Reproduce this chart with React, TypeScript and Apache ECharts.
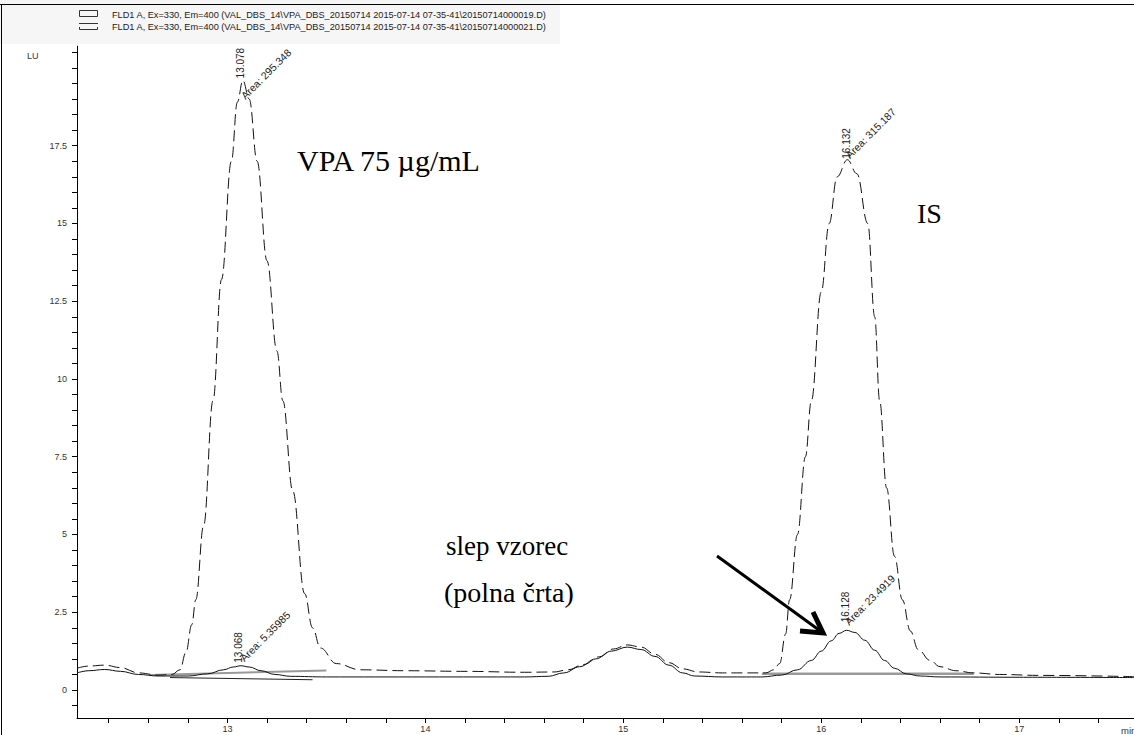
import React, { useEffect, useRef } from "react";
import * as echarts from "echarts";

// ---- axis ticks / labels ----
const xLabelValues = [13, 14, 15, 16, 17];
const xTickValues = [12.4, 12.6, 12.8, 13, 13.2, 13.4, 13.6, 13.8, 14, 14.2, 14.4, 14.6, 14.8, 15, 15.2, 15.4, 15.6, 15.8, 16, 16.2, 16.4, 16.6, 16.8, 17, 17.2, 17.4];
const yLabelValues = [0, 2.5, 5, 7.5, 10, 12.5, 15, 17.5];
const yTickValues: number[] = [];
for (let i = -1; i <= 41; i++) yTickValues.push(i * 0.5);

// ---- legend ----
const legendTexts = [
  "FLD1 A, Ex=330, Em=400 (VAL_DBS_14\\VPA_DBS_20150714 2015-07-14 07-35-41\\20150714000019.D)",
  "FLD1 A, Ex=330, Em=400 (VAL_DBS_14\\VPA_DBS_20150714 2015-07-14 07-35-41\\20150714000021.D)",
];

// ---- dashed trace: sample VPA 75 µg/mL ----
const sampleTrace: [number, number][] = [
  [12.24, 0.7], [12.3, 0.77], [12.38, 0.8], [12.46, 0.72], [12.55, 0.55], [12.65, 0.48], [12.72, 0.5],
  [12.76, 0.65], [12.79, 1.2], [12.82, 2.1], [12.84, 2.9], [12.88, 5.3], [12.927, 9.3], [12.97, 13.2],
  [13.02, 17.0], [13.05, 18.9], [13.078, 19.6], [13.11, 19.0], [13.15, 17.0], [13.2, 13.8], [13.25, 10.9],
  [13.28, 9.3], [13.33, 6.4], [13.39, 3.1], [13.43, 2.0], [13.47, 1.35], [13.55, 0.85], [13.67, 0.65],
  [13.9, 0.62], [14.2, 0.6], [14.5, 0.57], [14.65, 0.58], [14.72, 0.65], [14.8, 0.82], [14.88, 1.07],
  [14.95, 1.32], [15.02, 1.45], [15.09, 1.38], [15.16, 1.15], [15.23, 0.88], [15.3, 0.68], [15.38, 0.58],
  [15.5, 0.55], [15.6, 0.55], [15.72, 0.55], [15.76, 0.65], [15.79, 0.85], [15.82, 1.8], [15.84, 2.9],
  [15.88, 5.0], [15.92, 7.5], [15.95, 9.3], [16.0, 12.8], [16.04, 15.0], [16.08, 16.5], [16.132, 17.05],
  [16.18, 16.6], [16.235, 15.0], [16.27, 12.0], [16.295, 9.3], [16.33, 6.5], [16.37, 4.3], [16.41, 2.9],
  [16.45, 1.9], [16.49, 1.3], [16.55, 0.95], [16.6, 0.75], [16.68, 0.62], [16.77, 0.55], [16.9, 0.5],
  [17.1, 0.47], [17.58, 0.43],
];

// ---- solid trace: blank sample ----
const blankTrace: [number, number][] = [
  [12.24, 0.55], [12.3, 0.62], [12.38, 0.66], [12.46, 0.6], [12.55, 0.5], [12.65, 0.45], [12.8, 0.45],
  [12.9, 0.52], [12.98, 0.65], [13.03, 0.74], [13.068, 0.78], [13.11, 0.74], [13.17, 0.62], [13.24, 0.5],
  [13.32, 0.44], [13.5, 0.42], [14.0, 0.42], [14.5, 0.42], [14.62, 0.44], [14.7, 0.55], [14.78, 0.75],
  [14.86, 1.0], [14.94, 1.25], [15.02, 1.38], [15.09, 1.3], [15.16, 1.08], [15.23, 0.8], [15.3, 0.55],
  [15.36, 0.45], [15.5, 0.42], [15.7, 0.42], [15.8, 0.48], [15.88, 0.65], [15.95, 0.95], [16.0, 1.25],
  [16.05, 1.58], [16.09, 1.82], [16.128, 1.92], [16.17, 1.85], [16.22, 1.6], [16.27, 1.28], [16.32, 0.95],
  [16.37, 0.7], [16.43, 0.52], [16.5, 0.45], [16.6, 0.42], [17.0, 0.41], [17.58, 0.4],
];

// ---- integration baselines ----
const baselineVpaGray: [number, number][] = [[12.61, 0.48], [13.5, 0.63]];
const baselineVpaBlack: [number, number][] = [[12.71, 0.4], [13.43, 0.33]];
const baselineIsGray: [number, number][] = [[15.7, 0.52], [16.77, 0.52]];

// ---- peak annotations ----
const peakNotes = [
  { t: 13.078, v: 19.6, rt: "13.078", area: "Area: 295.348", rtOff: [3, -2], areaOff: [4, 21] },
  { t: 13.068, v: 0.78, rt: "13.068", area: "Area: 5.35985", rtOff: [3, -3], areaOff: [5, -2] },
  { t: 16.132, v: 17.05, rt: "16.132", area: "Area: 315.187", rtOff: [4, -1], areaOff: [4, 1] },
  { t: 16.128, v: 1.92, rt: "16.128", area: "Area: 23.4919", rtOff: [4, -8], areaOff: [4, -3] },
];

const bigTexts = [
  { text: "VPA 75 µg/mL", x: 297, y: 160, size: 30 },
  { text: "IS", x: 917, y: 213, size: 28 },
  { text: "slep vzorec", x: 446, y: 546, size: 27 },
  { text: "(polna črta)", x: 444, y: 592, size: 28 },
];

const SANS = '"Liberation Sans", Arial, sans-serif';
const SERIF = '"Liberation Serif", "Times New Roman", serif';

export default function App() {
  const ref = useRef<HTMLDivElement>(null);
  useEffect(() => {
    if (!ref.current) return;
    const chart = echarts.init(ref.current, null, { renderer: "svg" });
    const axisLabelStyle = { color: "#333", fontSize: 9, fontFamily: SANS };
    chart.setOption({
      animation: false,
      backgroundColor: "#fff",
      grid: { left: 77, right: 0, top: 46.2, bottom: 17, containLabel: false },
      xAxis: {
        type: "value",
        min: 12.24,
        max: 17.58,
        axisLine: { show: true, onZero: false, lineStyle: { color: "#000", width: 1 } },
        axisTick: { show: true, length: 5, customValues: xTickValues, lineStyle: { color: "#000" } },
        axisLabel: { show: true, customValues: xLabelValues, margin: 6, ...axisLabelStyle },
        splitLine: { show: false },
      },
      yAxis: {
        type: "value",
        min: -0.9,
        max: 20.7,
        axisLine: { show: true, onZero: false, lineStyle: { color: "#000", width: 1 } },
        axisTick: { show: true, length: 5, customValues: yTickValues, lineStyle: { color: "#000" } },
        axisLabel: { show: true, customValues: yLabelValues, margin: 10, ...axisLabelStyle },
        splitLine: { show: false },
      },
      series: [
        {
          name: "baseVpaGray", type: "line", data: baselineVpaGray, showSymbol: false, silent: true,
          lineStyle: { color: "#999", width: 2 },
        },
        {
          name: "baseVpaBlack", type: "line", data: baselineVpaBlack, showSymbol: false, silent: true,
          lineStyle: { color: "#222", width: 1 },
        },
        {
          name: "baseIsGray", type: "line", data: baselineIsGray, showSymbol: false, silent: true,
          lineStyle: { color: "#999", width: 2.5 },
        },
        {
          name: "blank", type: "line", data: blankTrace, showSymbol: false, smooth: 0.4, smoothMonotone: "x",
          lineStyle: { color: "#111", width: 1 },
        },
        {
          name: "sample", type: "line", data: sampleTrace, showSymbol: false, smooth: 0.4, smoothMonotone: "x",
          lineStyle: { color: "#111", width: 1, type: [11, 5] },
        },
      ],
    });

    const px = (t: number, v: number) => chart.convertToPixel({ gridIndex: 0 }, [t, v]) as number[];
    const graphics: any[] = [];
    // frame
    graphics.push({ type: "rect", shape: { x: 0, y: 0, width: 560, height: 44 }, style: { fill: "#f6f6f6" }, z: -10 });
    graphics.push({ type: "line", shape: { x1: 0, y1: 4.5, x2: 1134, y2: 4.5 }, style: { stroke: "#000", lineWidth: 1 } });
    graphics.push({ type: "line", shape: { x1: 1.5, y1: 4.5, x2: 1.5, y2: 735 }, style: { stroke: "#000", lineWidth: 1 } });
    // legend icons
    graphics.push({ type: "rect", shape: { x: 79.5, y: 10.5, width: 18, height: 6 }, style: { fill: "none", stroke: "#333", lineWidth: 1 } });
    graphics.push({ type: "line", shape: { x1: 79, y1: 23.5, x2: 98, y2: 23.5 }, style: { stroke: "#333", lineWidth: 1 } });
    graphics.push({ type: "polyline", shape: { points: [[79.5, 27], [79.5, 29.5], [97.5, 29.5], [97.5, 27]] }, style: { fill: "none", stroke: "#333", lineWidth: 1 } });
    legendTexts.forEach((t, i) => {
      graphics.push({
        type: "text", x: 112, y: 14.5 + i * 12.5,
        style: { text: t, fontSize: 9.2, fontFamily: SANS, fill: "#222", align: "left", verticalAlign: "middle" },
      });
    });
    graphics.push({ type: "text", x: 27, y: 56, style: { text: "LU", fontSize: 9, fontFamily: SANS, fill: "#333", verticalAlign: "middle" } });
    graphics.push({ type: "text", x: 1121, y: 730, style: { text: "min", fontSize: 9.5, fontFamily: SANS, fill: "#333", verticalAlign: "middle" } });

    peakNotes.forEach((p) => {
      const [ax, ay] = px(p.t, p.v);
      graphics.push({
        type: "text", x: ax + p.rtOff[0], y: ay + p.rtOff[1], rotation: Math.PI / 2,
        style: { text: p.rt, fontSize: 10, fontFamily: SANS, fill: "#222", align: "left", verticalAlign: "bottom" },
      });
      graphics.push({
        type: "text", x: ax + p.areaOff[0], y: ay + p.areaOff[1], rotation: Math.PI / 4,
        style: { text: p.area, fontSize: 10.5, fontFamily: SANS, fill: "#222", align: "left", verticalAlign: "bottom" },
      });
    });

    bigTexts.forEach((b) => {
      graphics.push({
        type: "text", x: b.x, y: b.y,
        style: { text: b.text, fontSize: b.size, fontFamily: SERIF, fill: "#000", align: "left", verticalAlign: "middle" },
      });
    });

    // arrow
    graphics.push({ type: "line", shape: { x1: 717, y1: 556, x2: 819, y2: 630 }, style: { stroke: "#000", lineWidth: 3 } });
    graphics.push({
      type: "polyline", shape: { points: [[813, 612], [823, 633], [800, 631]] },
      style: { fill: "none", stroke: "#000", lineWidth: 5, lineJoin: "miter" },
    });

    chart.setOption({ graphic: graphics });
    return () => chart.dispose();
  }, []);
  return <div ref={ref} style={{ position: "absolute", left: 0, top: 0, width: 1134, height: 735 }} />;
}
